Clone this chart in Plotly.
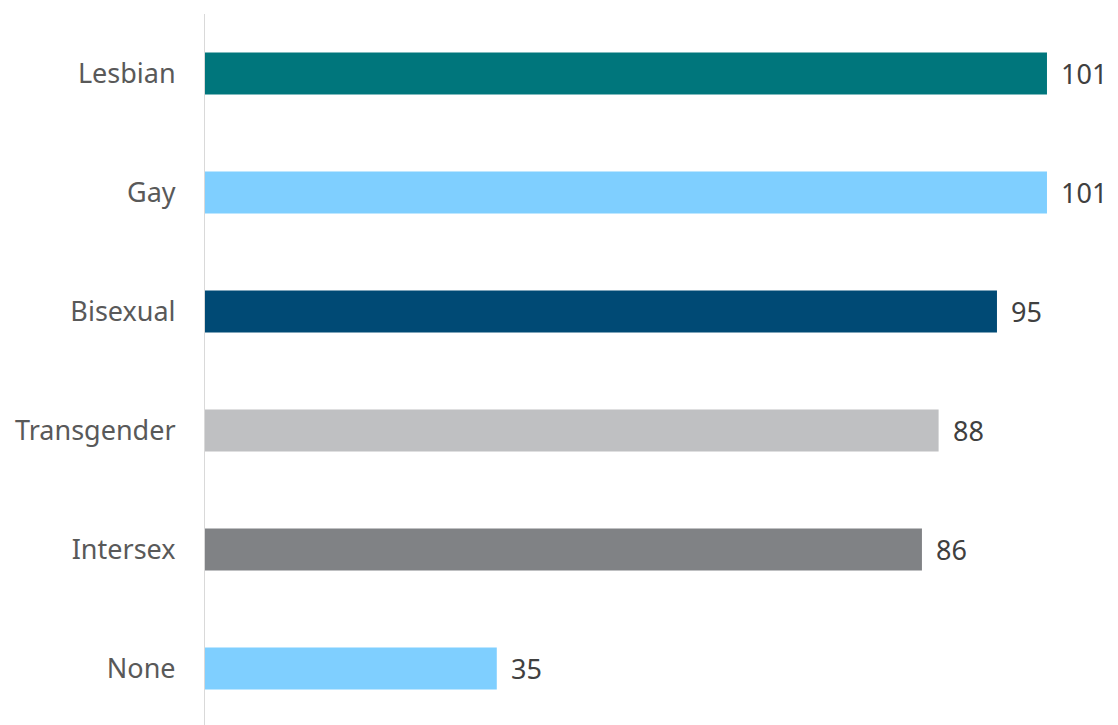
import plotly.graph_objects as go

categories = ["Lesbian", "Gay", "Bisexual", "Transgender", "Intersex", "None"]
values = [101, 101, 95, 88, 86, 35]
colors = ["#00767C", "#7FCFFF", "#004A75", "#BFC0C2", "#808285", "#7FCFFF"]

fig = go.Figure()
fig.add_trace(go.Bar(
    y=categories, x=values, orientation="h",
    marker=dict(color=colors, line=dict(width=0)),
    width=0.353, hoverinfo="skip",
))
for c, v in zip(categories, values):
    fig.add_annotation(x=v, y=c, text=str(v), showarrow=False, xanchor="left",
                       xshift=12, font=dict(family="Noto Sans", size=27, color="#404040"))

fig.update_layout(
    width=1110, height=717,
    margin=dict(l=197, r=30, t=6, b=0),
    paper_bgcolor="white", plot_bgcolor="white",
    showlegend=False,
    font=dict(family="Noto Sans", size=27, color="#595959"),
    xaxis=dict(range=[0, 105.92], visible=False, showgrid=False, zeroline=False),
    yaxis=dict(type="category", categoryorder="array", categoryarray=categories,
               range=[5.475, -0.5], showline=True, linecolor="#D9D9D9", linewidth=1,
               showgrid=False, zeroline=False, ticks="", ticklabelstandoff=23,
               tickfont=dict(family="Noto Sans", size=27, color="#595959")),
)
fig.write_html("out.html")
